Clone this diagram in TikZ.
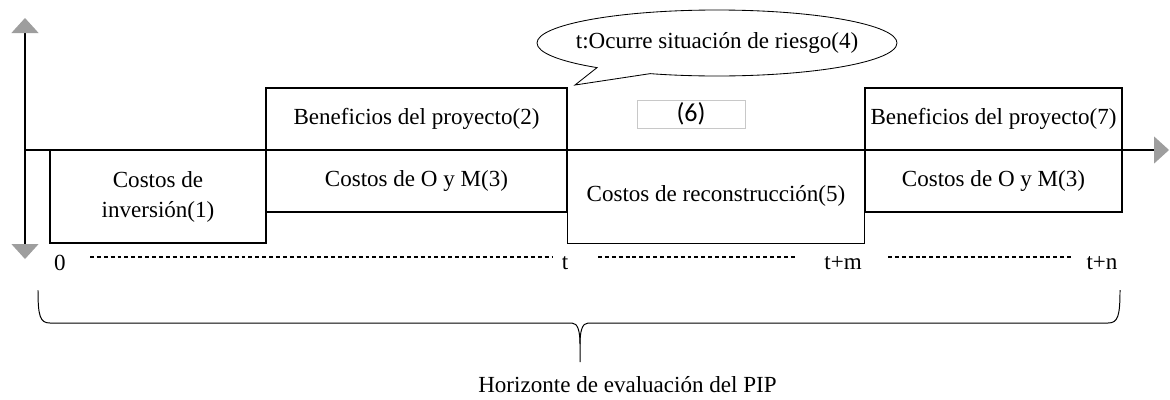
\documentclass[tikz,border=0pt]{standalone}
\usepackage{fontspec}
\setmainfont{Liberation Serif}
\newfontfamily\carlito{Carlito}
\usepackage{tikz}
\usetikzlibrary{arrows.meta, positioning, shapes.geometric, shapes.callouts}
\definecolor{axgray}{RGB}{158,158,158}
\definecolor{paleframe}{RGB}{200,200,200}
\newcommand{\labsize}{\fontsize{16.4}{21.3}\selectfont}
\tikzset{
  axtip/.tip={Triangle[length=0.375cm, width=0.675cm, color=axgray, fill=axgray]},
  axis/.style={line width=0.8pt, color=black},
  costbox/.style={rectangle, draw, line width=0.8pt, inner sep=0pt,
    font=\labsize, align=center},
  frame/.style={line width=0.8pt},
  lbl/.style={inner sep=0pt, font=\labsize},
  tick/.style={inner sep=0pt, font=\labsize},
  dashline/.style={line width=0.75pt, dash pattern=on 2.8pt off 2.1pt},
  bubble/.style={ellipse callout, draw, fill=white, line width=0.6pt,
    minimum width=9cm, minimum height=1.65cm, callout pointer arc=20},
  slot/.style={rectangle, draw=paleframe, line width=0.6pt,
    minimum width=2.7cm, minimum height=0.7cm, inner sep=0pt,
    font=\carlito\fontsize{18.5}{20}\selectfont}
}
\begin{document}
\begin{tikzpicture}
  \useasboundingbox (0,0) rectangle (29.25,-9.975);

  % Axes
  \draw[axis, axtip-axtip] (0.625,-0.45) -- (0.625,-6.475);
  \draw[axis, -axtip] (0.625,-3.75) -- (29.225,-3.75);

  % Boxes before t
  \node[costbox, minimum width=5.4cm, minimum height=2.325cm] (inv) at (3.95,-4.9125) {Costos de\\inversión(1)};
  \node[costbox, minimum width=7.525cm, minimum height=1.55cm] (ben2) at (10.4125,-2.975) {Beneficios del proyecto(2)};
  \node[costbox, minimum width=7.525cm, minimum height=1.55cm] (om2) at (10.4125,-4.525) {Costos de O y M(3)};

  % Boxes after t+m
  \node[costbox, minimum width=6.425cm, minimum height=1.55cm] (ben7) at (24.8375,-2.975) {Beneficios del proyecto(7)};
  \node[costbox, minimum width=6.425cm, minimum height=1.55cm] (om7) at (24.8375,-4.525) {Costos de O y M(3)};

  % Reconstruction between t and t+m
  \draw[frame] (ben2.north east) -- (inv.south -| ben2.east) -- (inv.south -| ben7.west) -- (ben7.north west);
  \node[lbl] (rec) at (17.9,-4.9) {Costos de reconstrucción(5)};
  \node[slot] (six) at (17.275,-2.85) {(6)};

  % Risk event
  \node[bubble, callout absolute pointer={(14.375,-2.125)}] (riesgo) at (17.925,-1.075) {};
  \node[lbl] (riesgotxt) at (riesgo.center) {t:Ocurre situación de riesgo(4)};

  % Time marks
  \node[tick] (t0) at (1.5,-6.575) {0};
  \node[tick] (tt) at (14.125,-6.575) {t};
  \node[tick] (ttm) at (21.075,-6.575) {t+m};
  \node[tick] (ttn) at (27.55,-6.575) {t+n};
  \draw[dashline] (2.25,-6.425) -- (13.8,-6.425);
  \draw[dashline] (14.95,-6.425) -- (19.875,-6.425);
  \draw[dashline] (22.2,-6.425) -- (26.8,-6.425);

  % Horizon brace
  \draw[frame, line width=0.7pt] (0.95,-7.25) .. controls (0.95,-7.9) and (1.0,-8.075) .. (1.25,-8.075)
    -- (14.3,-8.075) .. controls (14.45,-8.075) and (14.5,-8.3) .. (14.5,-8.6) -- (14.5,-9.05);
  \draw[frame, line width=0.7pt] (28.0,-7.25) .. controls (28.0,-7.9) and (27.95,-8.075) .. (27.7,-8.075)
    -- (14.7,-8.075) .. controls (14.55,-8.075) and (14.5,-8.3) .. (14.5,-8.6);
  \node[lbl, anchor=west] (horiz) at (11.95,-9.625) {Horizonte de evaluación del PIP};
\end{tikzpicture}
\end{document}
